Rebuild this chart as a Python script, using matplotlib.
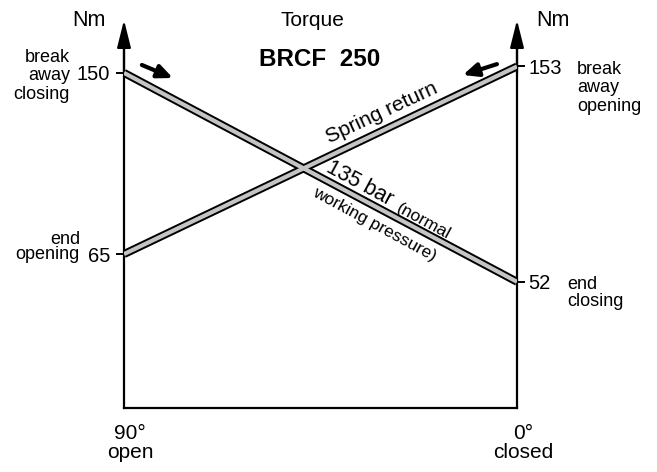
import matplotlib.pyplot as plt

plt.rcParams['font.family'] = ['Liberation Sans', 'DejaVu Sans']

W, H = 657, 472

# valve position (deg) and torque (Nm)
angles = [90, 0]
closing_torque = [150, 52]   # 135 bar, normal working pressure
spring_torque = [65, 153]    # spring return
left_ticks = [150, 65]
right_ticks = [153, 52]
y_lo, y_hi = -7.2, 174.8


def fx(px):
    return px / W


def fy(py):
    return 1 - py / H


fig = plt.figure(figsize=(W / 100, H / 100), dpi=100)
ax = fig.add_axes([fx(124), fy(408), (517 - 124) / W, (408 - 20) / H])
ax.set_xlim(90, 0)
ax.set_ylim(y_lo, y_hi)

# torque bands: black outline with grey core
for ys in (closing_torque, spring_torque):
    ax.plot(angles, ys, color='black', lw=5.8, solid_capstyle='butt', zorder=3)
    ax.plot(angles, ys, color='#c4c4c4', lw=3.0, solid_capstyle='butt', zorder=4)

ax.spines['top'].set_visible(False)
for side in ('left', 'right', 'bottom'):
    ax.spines[side].set_linewidth(1.6)
ax.spines['left'].set_bounds(y_lo, 165)
ax.spines['right'].set_bounds(y_lo, 165)
ax.set_xticks([])
ax.set_yticks(left_ticks)
ax.set_yticklabels([str(v) for v in left_ticks], fontsize=14.5)
ax.tick_params(axis='y', direction='out', length=6, width=1.4, pad=4)

ax2 = ax.twinx()
ax2.set_ylim(y_lo, y_hi)
for s in ax2.spines.values():
    s.set_visible(False)
ax2.set_yticks(right_ticks)
ax2.set_yticklabels([str(v) for v in right_ticks], fontsize=14.5)
ax2.tick_params(axis='y', direction='out', length=6, width=1.4, pad=2)

# axis arrow heads
for x in angles:
    ax.annotate('', xy=(x, y_hi), xytext=(x, 150),
                arrowprops=dict(arrowstyle='-|>,head_length=1.2,head_width=0.3',
                                mutation_scale=14, color='black', lw=1.6,
                                shrinkA=0, shrinkB=0),
                annotation_clip=False)

# direction arrows
arrow_kw = dict(arrowstyle='-|>,head_length=0.9,head_width=0.4', mutation_scale=10,
                color='black', lw=3, shrinkA=0, shrinkB=0)
ax.annotate('', xy=(78.8, 147.6), xytext=(85.9, 153.7), arrowprops=arrow_kw)
ax.annotate('', xy=(12.4, 149.0), xytext=(4.6, 154.1), arrowprops=arrow_kw)

# titles
fig.text(fx(89), fy(20), 'Nm', fontsize=15.5, ha='center', va='center')
fig.text(fx(553), fy(20), 'Nm', fontsize=15.5, ha='center', va='center')
fig.text(fx(312), fy(20), 'Torque', fontsize=15, ha='center', va='center')
fig.text(fx(320), fy(59), 'BRCF  250', fontsize=17.5, fontweight='bold',
         ha='center', va='center')

# side notes
fig.text(fx(70), fy(76), 'break\naway\nclosing', fontsize=13, ha='right',
         va='center', linespacing=1.15)
fig.text(fx(80), fy(247), 'end\nopening', fontsize=13, ha='right',
         va='center', linespacing=0.92)
fig.text(fx(577), fy(88), 'break\naway\nopening', fontsize=13, ha='left',
         va='center', linespacing=1.15)
fig.text(fx(567), fy(293), 'end\nclosing', fontsize=13, ha='left',
         va='center', linespacing=1.05)

# bottom labels
fig.text(fx(130), fy(443), '90°\nopen', fontsize=15, ha='center', va='center',
         linespacing=1.0)
fig.text(fx(523), fy(443), '0°\nclosed', fontsize=15, ha='center', va='center',
         linespacing=1.0)

# line labels
fig.text(fx(382), fy(113), 'Spring return', fontsize=15, rotation=25,
         ha='center', va='center', rotation_mode='anchor')
fig.text(fx(360), fy(184), '135 bar', fontsize=15.5, rotation=-28.5,
         ha='center', va='center', rotation_mode='anchor')
fig.text(fx(423), fy(222), '(normal', fontsize=12.5, rotation=-28.5,
         ha='center', va='center', rotation_mode='anchor')
fig.text(fx(374), fy(224), 'working pressure)', fontsize=12.5, rotation=-28.5,
         ha='center', va='center', rotation_mode='anchor')

fig.savefig('out.png', dpi=100)
